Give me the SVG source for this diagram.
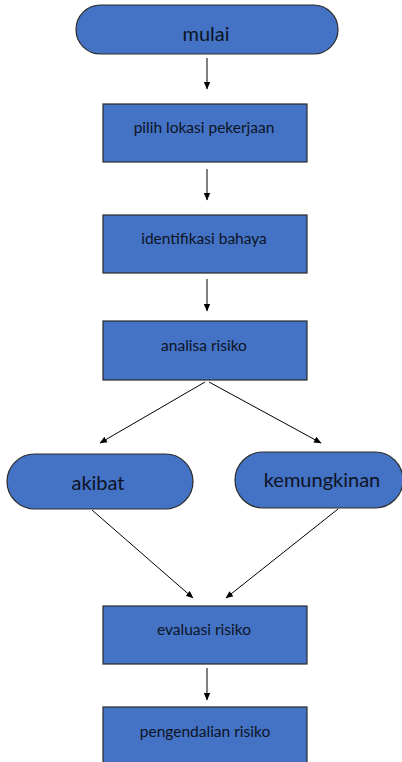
<svg xmlns="http://www.w3.org/2000/svg" width="402" height="762" viewBox="0 0 402 762">
<defs>
<marker id="ah" markerWidth="8" markerHeight="8" refX="7" refY="4" orient="auto" markerUnits="userSpaceOnUse">
<path d="M0,0.8 L7.5,4 L0,7.2 Z" fill="#000"/>
</marker>
<style>
.n{fill:#4472C4;stroke:#2b2b2b;stroke-width:1.2}
.t{font-family:Lato,"Open Sans","Liberation Sans",sans-serif;fill:#0d1424;text-anchor:middle;dominant-baseline:central}
.s{font-size:15.5px}
.b{font-size:20px}
.c{stroke:#000;stroke-width:1;fill:none;marker-end:url(#ah)}
</style>
</defs>
<rect width="402" height="762" fill="#fff"/>
<g id="connectors">
<line class="c" x1="207" y1="58" x2="207" y2="89"/>
<line class="c" x1="207" y1="169" x2="207" y2="200"/>
<line class="c" x1="207" y1="279" x2="207" y2="311"/>
<line class="c" x1="205" y1="382" x2="100" y2="443"/>
<line class="c" x1="209" y1="382" x2="321" y2="443"/>
<line class="c" x1="92" y1="510" x2="193" y2="598"/>
<line class="c" x1="338" y1="509" x2="226" y2="598"/>
<line class="c" x1="207" y1="668" x2="207" y2="700"/>
</g>
<g id="mulai">
<rect class="n" x="76" y="5" width="262" height="49" rx="24.5"/>
<text class="t b" x="206" y="33">mulai</text>
</g>
<g id="pilih">
<rect class="n" x="103" y="104" width="204" height="58"/>
<text class="t s" x="204" y="127">pilih lokasi pekerjaan</text>
</g>
<g id="identifikasi">
<rect class="n" x="103" y="215" width="204" height="58"/>
<text class="t s" x="204" y="238">identifikasi bahaya</text>
</g>
<g id="analisa">
<rect class="n" x="103" y="321" width="204" height="59"/>
<text class="t s" x="204" y="345">analisa risiko</text>
</g>
<g id="akibat">
<rect class="n" x="7" y="454" width="186" height="55" rx="27.5"/>
<text class="t b" x="98" y="482">akibat</text>
</g>
<g id="kemungkinan">
<rect class="n" x="235" y="452" width="168" height="56" rx="28"/>
<text class="t b" x="322" y="479">kemungkinan</text>
</g>
<g id="evaluasi">
<rect class="n" x="103" y="606" width="204" height="58"/>
<text class="t s" x="204" y="629">evaluasi risiko</text>
</g>
<g id="pengendalian">
<rect class="n" x="103" y="707" width="204" height="60"/>
<text class="t s" x="205" y="731">pengendalian risiko</text>
</g>
</svg>
